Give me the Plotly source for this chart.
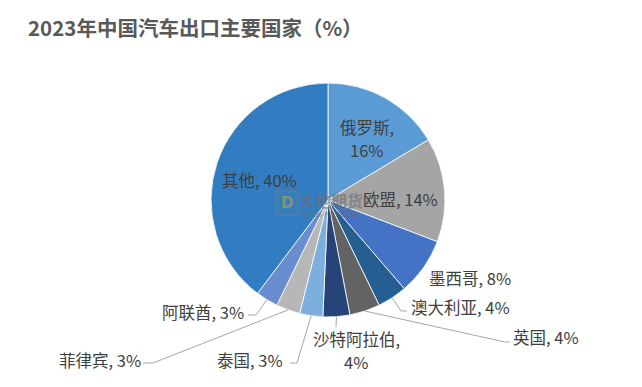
import math
import plotly.graph_objects as go

# ---- data ----
countries = ["俄罗斯", "欧盟", "墨西哥", "澳大利亚", "英国", "沙特阿拉伯", "泰国", "菲律宾", "阿联酋", "其他"]
shares = [16.4, 14.4, 7.9, 4.1, 4.2, 3.7, 3.2, 3.3, 3.1, 39.7]
title_text = "2023年中国汽车出口主要国家（%）"

# ---- style ----
colors = ["#5B9BD5", "#A5A5A5", "#4472C4", "#255E91", "#636363",
          "#264478", "#7CAFDD", "#B7B7B7", "#698ED0", "#327DC2"]
OFF = 8                     # page body margin
W, H = 642 - OFF, 387 - OFF
CX, CY, R = 328, 200, 117   # pie centre / radius in screen px (layout)

# label layout (screen px of text anchor; two-line labels get a second y)
label_layout = {
    "俄罗斯":   dict(pos=(367, 127), anchor="center", y2=150),
    "欧盟":     dict(pos=(400, 199), anchor="center"),
    "墨西哥":   dict(pos=(428, 278), anchor="left"),
    "澳大利亚": dict(pos=(410, 307), anchor="left", leader=[(401, 311), (407, 311)]),
    "英国":     dict(pos=(512, 337), anchor="left", leader=[(505, 342), (510, 342)]),
    "沙特阿拉伯": dict(pos=(356, 339), anchor="center", y2=362, leader=[(336, 327)]),
    "泰国":     dict(pos=(284, 360), anchor="right", leader=[(297, 363), (290, 363)]),
    "菲律宾":   dict(pos=(142, 360), anchor="right", leader=[(153, 363), (143, 363)]),
    "阿联酋":   dict(pos=(245, 312), anchor="right", leader=[(256, 315), (248, 315)]),
    "其他":     dict(pos=(259, 180), anchor="center"),
}
LABEL_FONT = dict(family="Noto Sans CJK SC", size=16.5, color="#404040")

def px(x, y):
    return (x - OFF) / W, 1 - (y - OFF) / H

x0, y0 = px(CX - R, CY + R)
x1, y1 = px(CX + R, CY - R)
fig = go.Figure(go.Pie(
    labels=countries, values=shares, sort=False, direction="clockwise", rotation=0,
    marker=dict(colors=colors, line=dict(color="white", width=0.8)),
    textinfo="none", hoverinfo="skip", showlegend=False,
    domain=dict(x=[x0, x1], y=[y0, y1]),
))

def note(x, y, text, anchor, font, **kw):
    ax, ay = px(x, y)
    return dict(x=ax, y=ay, xref="paper", yref="paper", text=text, showarrow=False,
                xanchor=anchor, yanchor="middle", align="center", borderpad=0, font=font, **kw)

total = sum(shares)
cum = 0.0
annotations = []
shapes = []
for name, v in zip(countries, shares):
    mid = 2 * math.pi * (cum + v / 2) / total
    cum += v
    cfg = label_layout[name]
    lx, ly = cfg["pos"]
    pct = f"{round(v)}%"
    if "y2" in cfg:
        annotations.append(note(lx, ly, f"{name},", cfg["anchor"], LABEL_FONT))
        annotations.append(note(lx, cfg["y2"], pct, cfg["anchor"], LABEL_FONT))
    else:
        annotations.append(note(lx, ly, f"{name}, {pct}", cfg["anchor"], LABEL_FONT))
    if "leader" in cfg:
        ex, ey = CX + R * math.sin(mid), CY - R * math.cos(mid)
        pts = [(ex, ey)] + cfg["leader"]
        path = "M " + " L ".join(f"{px(a, b)[0]},{px(a, b)[1]}" for a, b in pts)
        shapes.append(dict(type="path", path=path, xref="paper", yref="paper",
                           line=dict(color="#A6A6A6", width=1)))

# watermark (faint logo + text)
lx0, ly0 = px(276, 215)
lx1, ly1 = px(298, 191)
shapes.append(dict(type="rect", x0=lx0, y0=ly0, x1=lx1, y1=ly1, xref="paper", yref="paper",
                   line=dict(color="#7F7F7F", width=1.5), fillcolor="rgba(127,127,127,0.15)",
                   opacity=0.5))
annotations.append(note(287, 203, "<b>D</b>", "center",
                        dict(family="DejaVu Sans", size=15, color="#B8A23A"), opacity=0.6))
annotations.append(note(331, 200, "<b>大地期货</b>", "center",
                        dict(family="Noto Sans CJK SC", size=16, color="#6E6E6E"), opacity=0.6))
annotations.append(note(331, 215, "<b>DADI FUTURES</b>", "center",
                        dict(family="DejaVu Sans", size=7, color="#6E6E6E"), opacity=0.45))

# title
annotations.append(note(27, 27, "<b>" + title_text + "</b>", "left",
                        dict(family="Noto Sans CJK SC", size=20.5, color="#595959")))

fig.update_layout(
    width=W, height=H, margin=dict(l=0, r=0, t=0, b=0),
    paper_bgcolor="white", plot_bgcolor="white",
    annotations=annotations, shapes=shapes,
)
fig.write_html("out.html")
